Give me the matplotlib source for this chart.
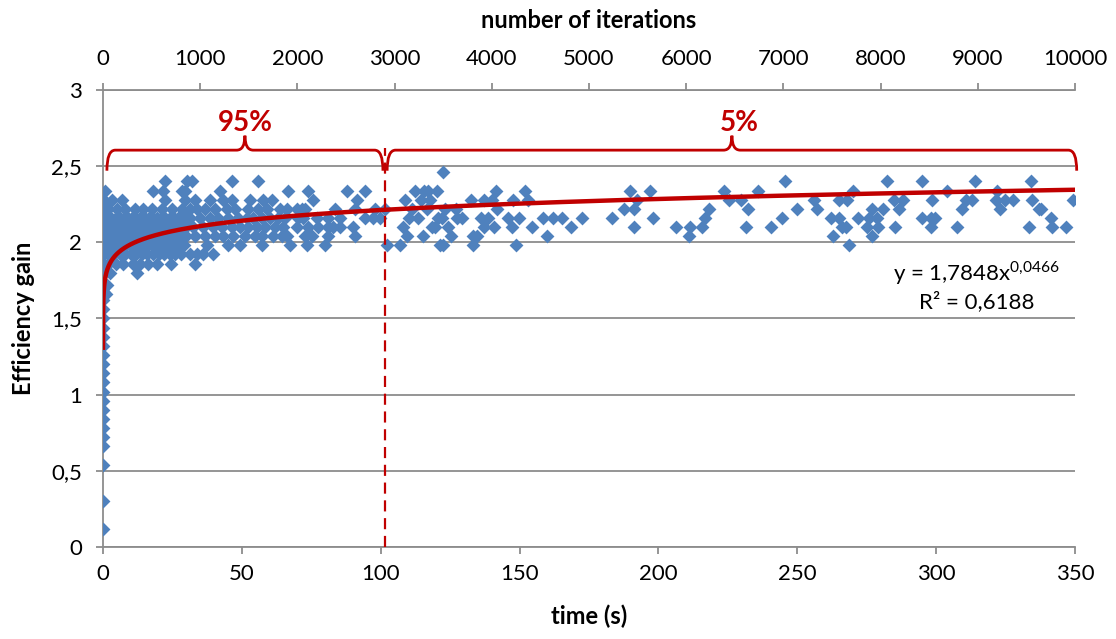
import numpy as np
import matplotlib

matplotlib.use("Agg")
import matplotlib.pyplot as plt
from matplotlib.path import Path
from matplotlib.patches import PathPatch

plt.rcParams["font.family"] = ["Lato", "DejaVu Sans"]

ROW_246 = [122.3]
ROW_240 = [22.3, 30.1, 31.9, 46.3, 55.9, 245.6, 282.4, 294.8, 314.0, 334.2]
ROW_234 = [0.7, 18.1, 21.7, 28.3, 29.5, 42.1, 66.7, 73.9, 87.8, 94.3, 112.4,
           115.6, 117.1, 120.1, 141.5, 152.0, 189.8, 197.0, 223.7, 236.0,
           269.9, 303.8, 321.8]
ROW_228 = [0.3, 3.1, 6.7, 22.3, 29.5, 33.1, 38.5, 43.3, 46.3, 52.9, 57.7,
           60.7, 75.7, 91.3, 108.7, 114.4, 117.8, 132.4, 137.2, 139.9, 147.8,
           153.2, 192.2, 225.4, 229.6, 256.0, 265.1, 268.0, 284.8, 288.0,
           298.6, 310.7, 313.0, 321.4, 324.6, 327.8, 334.4, 349.1]
ROW_222 = [0.2, 1.9, 4.9, 7.9, 11.5, 14.5, 17.5, 21.1, 24.7, 28.3, 31.3,
           33.7, 36.7, 40.3, 44.5, 47.5, 52.3, 55.9, 58.9, 63.7, 66.1, 69.7,
           71.5, 72.7, 83.5, 90.7, 97.9, 101.5, 111.2, 116.5, 123.2, 127.1,
           142.0, 187.7, 191.3, 218.2, 232.4, 249.8, 257.0, 276.8, 280.7,
           286.7, 309.4, 323.0, 337.0, 337.8]
ROW_216 = [0.2, 1.5, 3.0, 4.5, 6.0, 7.5, 9.0, 10.5, 12.0, 13.5, 15.0, 16.5,
           18.0, 19.5, 21.0, 22.5, 24.0, 25.5, 27.0, 28.5, 30.0, 31.3, 34.9,
           38.5, 41.5, 45.1, 48.7, 51.7, 54.1, 57.1, 60.1, 63.1, 65.5, 70.3,
           72.1, 76.9, 81.1, 85.3, 94.3, 97.3, 99.7, 110.3, 113.5, 120.7,
           121.9, 127.3, 129.2, 136.0, 138.7, 145.9, 149.9, 158.3, 162.2,
           165.4, 172.4, 183.2, 198.2, 216.8, 244.4, 262.0, 265.1, 271.9,
           275.9, 278.8, 294.8, 298.2, 299.6, 341.4]
ROW_210 = [0.2, 1.2, 2.4, 3.6, 4.8, 6.0, 7.2, 8.4, 9.6, 10.8, 12.0, 13.2,
           14.4, 15.6, 16.8, 18.0, 19.2, 20.4, 21.6, 22.8, 24.0, 25.2, 26.4,
           27.6, 28.8, 30.0, 32.5, 36.1, 39.7, 42.7, 46.3, 49.3, 52.3, 55.3,
           58.3, 61.9, 64.9, 69.7, 73.9, 77.5, 81.1, 82.9, 85.3, 90.1, 107.9,
           118.3, 119.6, 124.3, 137.2, 140.8, 147.2, 154.4, 168.5, 191.3,
           206.2, 211.4, 215.6, 231.5, 240.4, 266.0, 267.6, 275.2, 279.2,
           285.2, 298.2, 307.4, 333.4, 341.6, 346.7]
ROW_204 = [0.2, 1.5, 3.0, 4.5, 6.0, 7.5, 9.0, 10.5, 12.0, 13.5, 15.0, 16.5,
           18.0, 19.5, 21.0, 22.5, 24.0, 25.5, 27.0, 28.5, 30.0, 33.1, 36.7,
           40.3, 43.3, 46.9, 51.1, 54.7, 57.1, 61.3, 64.3, 66.1, 72.7, 75.1,
           81.1, 90.7, 109.6, 115.3, 125.2, 133.3, 134.8, 159.8, 211.0, 262.7,
           276.8]
ROW_198 = [0.2, 1.8, 3.4, 5.0, 6.6, 8.2, 9.8, 11.4, 13.0, 14.6, 16.2, 17.8,
           19.4, 21.0, 22.6, 24.2, 25.8, 27.4, 29.0, 37.3, 45.1, 49.3, 57.1,
           67.3, 73.3, 79.9, 102.1, 107.0, 121.4, 122.5, 133.1, 148.7, 268.7]
ROW_192 = [0.2, 2.0, 4.0, 6.0, 8.0, 10.0, 12.0, 14.0, 16.0, 18.0, 20.0,
           22.0, 24.0, 26.0, 28.0, 31.3, 33.7, 36.1, 39.7]
ROW_186 = [0.2, 1.9, 4.5, 7.3, 10.9, 13.5, 16.3, 19.6, 24.4, 33.1]
ROW_180 = [0.3, 2.5, 12.1]

ROW_LEVELS = [2.46, 2.40, 2.34, 2.28, 2.22, 2.16, 2.10, 2.04, 1.98, 1.92,
              1.86, 1.80]
ROW_TIMES = [ROW_246, ROW_240, ROW_234, ROW_228, ROW_222, ROW_216, ROW_210,
             ROW_204, ROW_198, ROW_192, ROW_186, ROW_180]

# the column of early points at t ~ 0
COLUMN_TIME = [0.1, 1.6, 0.1, 0.1, 0.1, 0.1, 0.1, 0.1, 0.1, 0.1, 0.1, 0.1,
               0.1, 0.1, 0.1, 0.1, 0.1, 0.1, 0.1, 0.1, 0.1, 0.1, 0.1, 1.2]
COLUMN_GAIN = [1.74, 1.72, 1.68, 1.62, 1.56, 1.50, 1.44, 1.38, 1.32, 1.26,
               1.20, 1.14, 1.08, 1.02, 0.96, 0.90, 0.84, 0.78, 0.72, 0.66,
               0.54, 0.30, 0.12, 1.66]

# power-law trendline as given in the chart
FIT_A = 1.7848
FIT_B = 0.0466
FIT_R2 = "0,6188"

SPLIT_TIME = 101.5
X_TICKS = [0, 50, 100, 150, 200, 250, 300, 350]
Y_TICKS = [0, 0.5, 1, 1.5, 2, 2.5, 3]
Y_TICK_LABELS = ["0", "0,5", "1", "1,5", "2", "2,5", "3"]
ITER_TICKS = list(range(0, 10001, 1000))

BLUE = "#4F81BD"
RED = "#C00000"
GRID = "#8C8C8C"


def brace(ax, x0, x1, y_mid, y_low, y_tip, rx):
    xm = (x0 + x1) / 2
    verts = [
        (x0, y_low), (x0, y_mid), (x0 + rx, y_mid),
        (xm - rx, y_mid), (xm, y_mid), (xm, y_tip),
        (xm, y_mid), (xm + rx, y_mid),
        (x1 - rx, y_mid), (x1, y_mid), (x1, y_low),
    ]
    codes = [
        Path.MOVETO, Path.CURVE3, Path.CURVE3,
        Path.LINETO, Path.CURVE3, Path.CURVE3,
        Path.CURVE3, Path.CURVE3,
        Path.LINETO, Path.CURVE3, Path.CURVE3,
    ]
    ax.add_patch(PathPatch(Path(verts, codes), facecolor="none",
                           edgecolor=RED, lw=2.0, clip_on=False, zorder=5))


def main() -> None:
    fig = plt.figure(figsize=(11.16, 6.39), dpi=100)
    ax = fig.add_axes([0.0923, 0.1440, 0.8710, 0.7152])

    times = [t for row in ROW_TIMES for t in row] + COLUMN_TIME
    gains = [lv for lv, row in zip(ROW_LEVELS, ROW_TIMES) for _ in row] + COLUMN_GAIN
    ax.scatter(times, gains, marker="D", s=50, color=BLUE, linewidths=0,
               zorder=3)

    xfit = np.geomspace(0.001, 350, 600)
    ax.plot(xfit, FIT_A * xfit ** FIT_B, color=RED, lw=3.2, zorder=4,
            solid_capstyle="butt")

    ax.plot([SPLIT_TIME, SPLIT_TIME], [0, 2.62], color=RED, lw=1.6,
            linestyle=(0, (5, 3)), zorder=4)

    brace(ax, 1.4, 100.8, 2.605, 2.47, 2.70, 3.0)
    brace(ax, 102.3, 350.6, 2.605, 2.47, 2.70, 3.0)
    ax.text(51.3, 2.785, "95%", color=RED, fontsize=20, fontweight="bold",
            ha="center", va="center")
    ax.text(229, 2.785, "5%", color=RED, fontsize=20, fontweight="bold",
            ha="center", va="center")

    ax.text(314.5, 1.80,
            "y = 1,7848x$^{\\mathregular{0{,}0466}}$",
            fontsize=16, ha="center", va="center")
    ax.text(314.5, 1.61, f"R² = {FIT_R2}", fontsize=16, ha="center",
            va="center")

    ax.set_xlim(0, 350)
    ax.set_ylim(0, 3)
    ax.set_xticks(X_TICKS)
    ax.set_yticks(Y_TICKS)
    ax.set_yticklabels(Y_TICK_LABELS)
    ax.yaxis.grid(True, color=GRID, lw=1.3)
    ax.set_axisbelow(True)
    for side in ("top", "right"):
        ax.spines[side].set_visible(False)
    for side in ("left", "bottom"):
        ax.spines[side].set_color(GRID)
        ax.spines[side].set_linewidth(1.3)
    ax.tick_params(axis="x", labelsize=16, color=GRID, length=5, width=1.3,
                   pad=7)
    ax.tick_params(axis="y", labelsize=16, color=GRID, length=5, width=1.3,
                   pad=10)
    ax.set_xlabel("time (s)", fontsize=17, fontweight="bold", labelpad=15)
    ax.set_ylabel("Efficiency gain", fontsize=17, fontweight="bold",
                  labelpad=12)

    top = ax.twiny()
    top.set_xlim(0, 10000)
    top.set_xticks(ITER_TICKS)
    top.tick_params(labelsize=16, color=GRID, length=5, width=1.3, pad=10)
    for side in ("bottom", "left", "right"):
        top.spines[side].set_visible(False)
    top.spines["top"].set_color(GRID)
    top.spines["top"].set_linewidth(1.3)
    top.set_xlabel("number of iterations", fontsize=17, fontweight="bold",
                   labelpad=15)

    fig.savefig("out.png", dpi=100)
    plt.close(fig)


if __name__ == "__main__":
    main()
